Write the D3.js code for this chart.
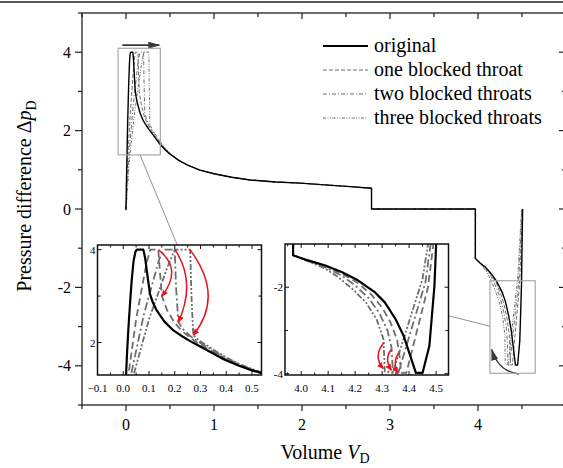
<!DOCTYPE html>
<html lang="en">
<head>
<meta charset="UTF-8">
<title>Pressure difference vs volume</title>
<script src="https://d3js.org/d3.v7.min.js"></script>
<style>
  body { margin: 0; background: #fff; }
  svg { display: block; font-family: "Liberation Serif", "DejaVu Serif", serif; }
</style>
</head>
<body>
<div id="chart"></div>
<script>
// values, pairs are [V_D, dp_D]
var seriesNames = ["original", "one blocked throat", "two blocked throats", "three blocked throats"];

// first peak (drainage start)
var peakOriginal = [[0.0,-0.02],[0.004,0.6],[0.011,1.3],[0.015,1.8],[0.02,2.3],[0.027,2.9],[0.033,3.35],[0.04,3.75],[0.047,3.95],[0.053,4.0],[0.078,4.0],[0.085,3.82],[0.095,3.4],[0.104,3.04],[0.115,2.86],[0.13,2.69],[0.16,2.45],[0.195,2.26],[0.23,2.13],[0.26,2.03],[0.29,1.94],[0.324,1.84],[0.36,1.73],[0.39,1.64],[0.42,1.57],[0.45,1.5],[0.5,1.4]];
var peakOne = [[0.0,-0.02],[0.01,0.6],[0.02,1.3],[0.05,2.5],[0.09,3.7],[0.105,4.0],[0.136,4.0],[0.143,3.5],[0.15,3.0],[0.17,2.7],[0.2,2.42],[0.23,2.24],[0.26,2.1],[0.29,1.99],[0.324,1.88],[0.36,1.77],[0.39,1.67],[0.42,1.59],[0.45,1.52],[0.5,1.41]];
var peakTwo = [[0.0,-0.02],[0.015,0.6],[0.03,1.3],[0.08,2.6],[0.14,3.8],[0.16,4.0],[0.2,4.0],[0.205,3.2],[0.214,2.44],[0.235,2.27],[0.26,2.14],[0.29,2.02],[0.324,1.91],[0.36,1.79],[0.39,1.69],[0.42,1.61],[0.45,1.53],[0.5,1.42]];
var peakThree = [[0.0,-0.02],[0.02,0.6],[0.04,1.3],[0.1,2.5],[0.17,3.6],[0.2,4.0],[0.26,4.0],[0.265,3.0],[0.272,2.16],[0.295,2.04],[0.324,1.94],[0.36,1.81],[0.39,1.71],[0.42,1.62],[0.45,1.54],[0.5,1.43]];

// common middle part (all cases overlap)
var sharedMid = [[0.6,1.24],[0.7,1.12],[0.84,0.99],[1.0,0.9],[1.2,0.81],[1.41,0.74],[1.7,0.69],[1.98,0.66],[2.3,0.61],[2.55,0.57],[2.79,0.53],[2.79,0.0],[3.97,0.0],[3.97,-1.26]];

// valley at the end (imbibition)
var valleyOriginal = [[4.025,-1.38],[4.087,-1.49],[4.15,-1.65],[4.21,-1.84],[4.274,-2.12],[4.31,-2.35],[4.35,-2.74],[4.38,-3.13],[4.405,-3.6],[4.425,-3.98],[4.45,-3.98],[4.475,-3.36],[4.494,-1.96],[4.5,-1.03],[4.507,0.0]];
var valleyOne = [[4.03,-1.39],[4.09,-1.51],[4.15,-1.68],[4.21,-1.9],[4.26,-2.17],[4.3,-2.47],[4.33,-2.8],[4.355,-3.2],[4.365,-3.6],[4.37,-3.98],[4.39,-3.98],[4.47,-2.0],[4.49,-1.0],[4.505,0.0]];
var valleyTwo = [[4.03,-1.4],[4.09,-1.54],[4.15,-1.73],[4.2,-1.96],[4.25,-2.25],[4.29,-2.6],[4.32,-3.0],[4.335,-3.4],[4.34,-3.98],[4.36,-3.98],[4.46,-1.9],[4.48,-1.0],[4.5,0.0]];
var valleyThree = [[4.03,-1.41],[4.09,-1.57],[4.14,-1.78],[4.19,-2.04],[4.24,-2.35],[4.28,-2.75],[4.305,-3.2],[4.31,-3.95],[4.34,-3.98],[4.45,-1.8],[4.47,-1.0],[4.495,0.0]];

// ticks
var xTicksMain = [0, 1, 2, 3, 4];
var yTicksMain = [-4, -2, 0, 2, 4];
var xTicksInset1 = [-0.1, 0.0, 0.1, 0.2, 0.3, 0.4, 0.5];
var yTicksInset1 = [2, 4];
var xTicksInset2 = [4.0, 4.1, 4.2, 4.3, 4.4, 4.5];
var yTicksInset2 = [-2, -4];

// annotations (in data units)
var flowArrow = [[-0.042, 4.18], [0.378, 4.18]];
var turnArrow = [[4.466, -4.21], [4.229, -4.145], [4.156, -3.58]];
var redArrows1 = [
  [[0.136, 4.0], [0.233, 3.58], [0.15, 3.0]],
  [[0.201, 4.0], [0.285, 3.3], [0.214, 2.44]],
  [[0.259, 4.0], [0.394, 3.0], [0.272, 2.16]]
];
var redArrows2 = [
  [[4.307, -3.28], [4.265, -3.6], [4.304, -3.88]],
  [[4.334, -3.44], [4.306, -3.66], [4.334, -3.92]],
  [[4.361, -3.52], [4.337, -3.75], [4.358, -3.98]]
];
var zoomBox1 = [[-0.09, 4.1], [0.39, 1.38]];
var zoomBox2 = [[4.136, -1.83], [4.65, -4.19]];

var series = [
  { name: seriesNames[0], pts: peakOriginal.concat(sharedMid, valleyOriginal) },
  { name: seriesNames[1], pts: peakOne.concat(sharedMid, valleyOne) },
  { name: seriesNames[2], pts: peakTwo.concat(sharedMid, valleyTwo) },
  { name: seriesNames[3], pts: peakThree.concat(sharedMid, valleyThree) }
];

// styles per series: main plot / insets
var styles = [
  { color: "#000", w: 1.4, wi: 2.2, dash: null, dashi: null },
  { color: "#6e6e6e", w: 1, wi: 1.8, dash: "4,2", dashi: "7,4" },
  { color: "#6e6e6e", w: 1, wi: 1.8, dash: "4,2,1,2", dashi: "8,3,2,3" },
  { color: "#6e6e6e", w: 1, wi: 1.8, dash: "3,1.5,1,1.5,1,1.5", dashi: "6,2,2,2,2,2" }
];

var W = 563, H = 468;
var svg = d3.select("#chart").append("svg").attr("width", W).attr("height", H);

// scales
var x = d3.scaleLinear().domain([-0.5, 5]).range([82, 566]);
var y = d3.scaleLinear().domain([-5, 5]).range([405, 13]);
var x1 = d3.scaleLinear().domain([-0.1, 0.537]).range([97.5, 261.5]);
var y1 = d3.scaleLinear().domain([1.3, 4.1]).range([375, 245]);
var x2 = d3.scaleLinear().domain([3.94, 4.546]).range([285, 448.5]);
var y2 = d3.scaleLinear().domain([-4.03, -1.0]).range([375, 244]);

var defs = svg.append("defs");
function addClip(id, xs, ys) {
  var r0 = xs.range(), r1 = ys.range();
  defs.append("clipPath").attr("id", id).append("rect")
    .attr("x", r0[0]).attr("y", r1[1])
    .attr("width", r0[1] - r0[0]).attr("height", r1[0] - r1[1]);
}
addClip("clipMain", x, y);
addClip("clipIn1", x1, y1);
addClip("clipIn2", x2, y2);

function addMarker(id, color, w, h) {
  defs.append("marker").attr("id", id)
    .attr("markerUnits", "userSpaceOnUse")
    .attr("markerWidth", w).attr("markerHeight", h)
    .attr("refX", w - 1).attr("refY", h / 2)
    .attr("orient", "auto")
    .append("path").attr("d", "M0,0 L" + w + "," + (h / 2) + " L0," + h + " Z").attr("fill", color);
}
addMarker("headRed", "#e8141c", 7, 6);
addMarker("headDark", "#3a3a3a", 12, 7);

// top rule of the page
svg.append("line").attr("x1", 0).attr("x2", W).attr("y1", 2).attr("y2", 2)
  .attr("stroke", "#222").attr("stroke-width", 1.5);

function drawSeries(g, xs, ys, inset) {
  var line = d3.line().x(function (d) { return xs(d[0]); }).y(function (d) { return ys(d[1]); });
  // gray ones first, black on top
  [3, 2, 1, 0].forEach(function (i) {
    var st = styles[i];
    g.append("path")
      .attr("d", line(series[i].pts))
      .attr("fill", "none")
      .attr("stroke", st.color)
      .attr("stroke-width", inset ? st.wi : st.w)
      .attr("stroke-dasharray", inset ? st.dashi : st.dash)
      .attr("stroke-linejoin", "round");
  });
}

// ---- main frame ----
var main = svg.append("g");
var plotMain = main.append("g").attr("clip-path", "url(#clipMain)");
drawSeries(plotMain, x, y, false);

// frame
main.append("rect")
  .attr("x", x(-0.5)).attr("y", y(5))
  .attr("width", x(5) - x(-0.5)).attr("height", y(-5) - y(5))
  .attr("fill", "none").attr("stroke", "#222").attr("stroke-width", 1.3);

// ticks main
d3.range(-0.5, 5.01, 0.5).forEach(function (v) {
  var major = Math.abs(v - Math.round(v)) < 1e-6;
  var len = major ? 6 : 4;
  main.append("line").attr("x1", x(v)).attr("x2", x(v)).attr("y1", y(-5)).attr("y2", y(-5) + len)
    .attr("stroke", "#222").attr("stroke-width", 1.2);
  main.append("line").attr("x1", x(v)).attr("x2", x(v)).attr("y1", y(5)).attr("y2", y(5) + len)
    .attr("stroke", "#222").attr("stroke-width", 1.2);
});
d3.range(-5, 5.01, 1).forEach(function (v) {
  var major = v % 2 === 0;
  var len = major ? 7 : 4;
  main.append("line").attr("x1", x(-0.5) - len).attr("x2", x(-0.5)).attr("y1", y(v)).attr("y2", y(v))
    .attr("stroke", "#222").attr("stroke-width", 1.2);
  main.append("line").attr("x1", x(5) - len).attr("x2", x(5)).attr("y1", y(v)).attr("y2", y(v))
    .attr("stroke", "#222").attr("stroke-width", 1.2);
});
xTicksMain.forEach(function (v) {
  main.append("text").attr("x", x(v)).attr("y", 430).attr("text-anchor", "middle")
    .attr("font-size", 16).text(v);
});
yTicksMain.forEach(function (v) {
  main.append("text").attr("x", 71).attr("y", y(v) + 5.5).attr("text-anchor", "end")
    .attr("font-size", 16).text(v);
});

// axis titles
var xt = main.append("text").attr("x", 325).attr("y", 459).attr("text-anchor", "middle").attr("font-size", 20);
xt.append("tspan").text("Volume ");
xt.append("tspan").attr("font-style", "italic").text("V");
xt.append("tspan").attr("font-size", 14).attr("dy", 4).text("D");

var yt = main.append("text").attr("transform", "translate(31,196) rotate(-90)")
  .attr("text-anchor", "middle").attr("font-size", 20);
yt.append("tspan").text("Pressure difference \u0394");
yt.append("tspan").attr("font-style", "italic").text("p");
yt.append("tspan").attr("font-size", 14).attr("dy", 5).text("D");

// legend
var legend = main.append("g");
seriesNames.forEach(function (name, i) {
  var cy = 46 + i * 24;
  var st = styles[i];
  legend.append("line").attr("x1", 323).attr("x2", 368).attr("y1", cy).attr("y2", cy)
    .attr("stroke", st.color).attr("stroke-width", i === 0 ? 2 : 1.1)
    .attr("stroke-dasharray", st.dash);
  legend.append("text").attr("x", 374).attr("y", cy + 6).attr("font-size", 20).text(name);
});

// flow arrow and turn arrow
main.append("line")
  .attr("x1", x(flowArrow[0][0])).attr("y1", y(flowArrow[0][1]))
  .attr("x2", x(flowArrow[1][0])).attr("y2", y(flowArrow[1][1]))
  .attr("stroke", "#3a3a3a").attr("stroke-width", 1.6).attr("marker-end", "url(#headDark)");
main.append("path")
  .attr("d", "M" + x(turnArrow[0][0]) + "," + y(turnArrow[0][1]) +
    " Q" + x(turnArrow[1][0]) + "," + y(turnArrow[1][1]) +
    " " + x(turnArrow[2][0]) + "," + y(turnArrow[2][1]))
  .attr("fill", "none").attr("stroke", "#3a3a3a").attr("stroke-width", 1.3)
  .attr("marker-end", "url(#headDark)");

// zoom boxes and connectors
[zoomBox1, zoomBox2].forEach(function (b) {
  main.append("rect")
    .attr("x", x(b[0][0])).attr("y", y(b[0][1]))
    .attr("width", x(b[1][0]) - x(b[0][0])).attr("height", y(b[1][1]) - y(b[0][1]))
    .attr("fill", "none").attr("stroke", "#a8a8a8").attr("stroke-width", 1.2);
});
main.append("line")
  .attr("x1", x(0.159)).attr("y1", y(zoomBox1[1][1]))
  .attr("x2", x1(0.21)).attr("y2", y1(4.1))
  .attr("stroke", "#777").attr("stroke-width", 0.8);
main.append("line")
  .attr("x1", x(zoomBox2[0][0])).attr("y1", y(-2.99))
  .attr("x2", x2(4.546)).attr("y2", y2(-2.66))
  .attr("stroke", "#777").attr("stroke-width", 0.8);

// ---- insets ----
function drawInset(xs, ys, clipId, xTicks, yTicks, xMinorStep, yMinor, arrows) {
  var g = svg.append("g");
  var xr = xs.range(), yr = ys.range();
  g.append("rect").attr("x", xr[0]).attr("y", yr[1])
    .attr("width", xr[1] - xr[0]).attr("height", yr[0] - yr[1]).attr("fill", "#fff");
  var plot = g.append("g").attr("clip-path", "url(#" + clipId + ")");
  drawSeries(plot, xs, ys, true);

  arrows.forEach(function (a) {
    plot.append("path")
      .attr("d", "M" + xs(a[0][0]) + "," + ys(a[0][1]) +
        " Q" + xs(a[1][0]) + "," + ys(a[1][1]) +
        " " + xs(a[2][0]) + "," + ys(a[2][1]))
      .attr("fill", "none").attr("stroke", "#e8141c").attr("stroke-width", 1.5)
      .attr("marker-end", "url(#headRed)");
  });

  g.append("rect").attr("x", xr[0]).attr("y", yr[1])
    .attr("width", xr[1] - xr[0]).attr("height", yr[0] - yr[1])
    .attr("fill", "none").attr("stroke", "#111").attr("stroke-width", 1.5);

  // inward ticks on all sides
  var d0 = xs.domain();
  var start = Math.ceil(d0[0] / xMinorStep) * xMinorStep;
  d3.range(start, d0[1] + 1e-9, xMinorStep).forEach(function (v) {
    var major = xTicks.some(function (t) { return Math.abs(t - v) < 1e-6; });
    var len = major ? 4 : 2.5;
    g.append("line").attr("x1", xs(v)).attr("x2", xs(v)).attr("y1", yr[0]).attr("y2", yr[0] - len)
      .attr("stroke", "#111").attr("stroke-width", 1);
    g.append("line").attr("x1", xs(v)).attr("x2", xs(v)).attr("y1", yr[1]).attr("y2", yr[1] + len)
      .attr("stroke", "#111").attr("stroke-width", 1);
  });
  yMinor.forEach(function (v) {
    var major = yTicks.indexOf(v) >= 0;
    var len = major ? 4 : 3;
    g.append("line").attr("x1", xr[0]).attr("x2", xr[0] + len).attr("y1", ys(v)).attr("y2", ys(v))
      .attr("stroke", "#111").attr("stroke-width", 1);
    g.append("line").attr("x1", xr[1]).attr("x2", xr[1] - len).attr("y1", ys(v)).attr("y2", ys(v))
      .attr("stroke", "#111").attr("stroke-width", 1);
  });
  xTicks.forEach(function (v) {
    g.append("text").attr("x", xs(v)).attr("y", 392).attr("text-anchor", "middle")
      .attr("font-size", 11).text(d3.format(".1f")(v));
  });
  yTicks.forEach(function (v) {
    g.append("text").attr("x", xr[0] - 2).attr("y", ys(v) + 4).attr("text-anchor", "end")
      .attr("font-size", 11).text(v);
  });
}

drawInset(x1, y1, "clipIn1", xTicksInset1, yTicksInset1, 0.05, [2, 3, 4], redArrows1);
drawInset(x2, y2, "clipIn2", xTicksInset2, yTicksInset2, 0.05, [-4, -3, -2], redArrows2);
</script>
</body>
</html>
